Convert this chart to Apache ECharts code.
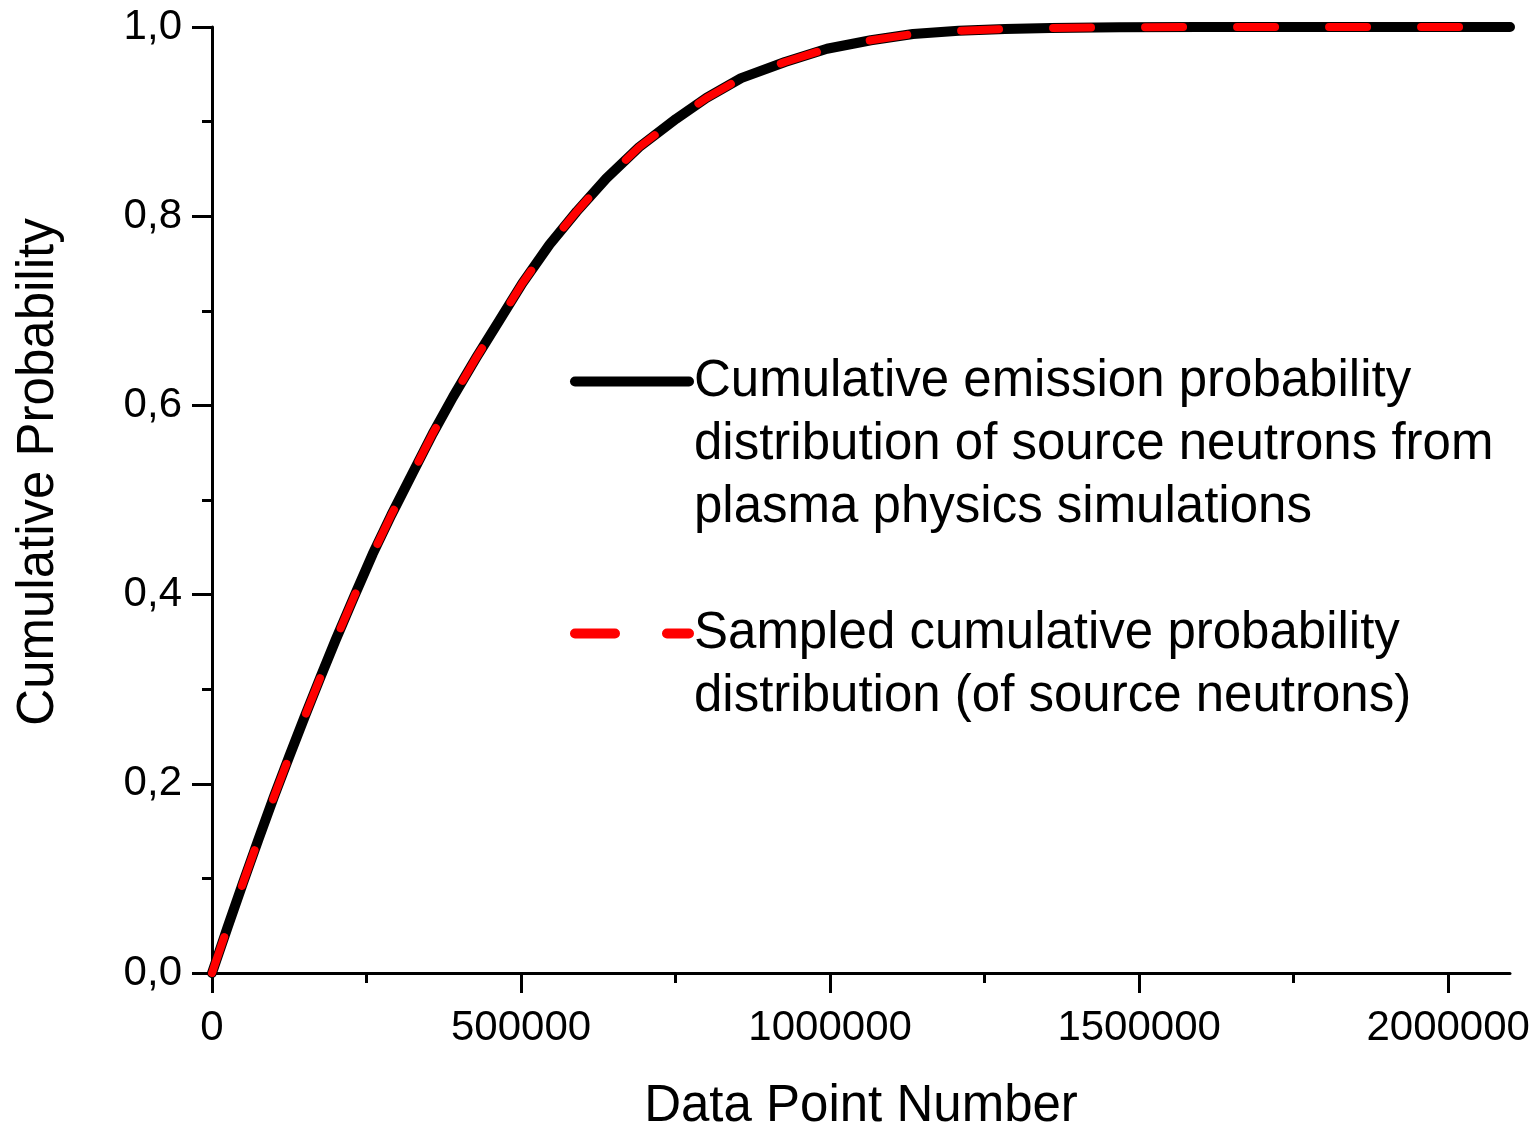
<!DOCTYPE html>
<html>
<head>
<meta charset="utf-8">
<script src="https://cdn.jsdelivr.net/npm/echarts@6/dist/echarts.min.js"></script>
<style>
  html, body { margin: 0; padding: 0; background: #fff; }
  #chart { width: 1536px; height: 1125px; }
</style>
</head>
<body>
<div id="chart"></div>
<script>
// ---- data ----
const dataPointNumber = [0, 25000, 50000, 75000, 100000, 125000, 150000, 175000, 200000, 230000,
  260000, 290000, 325000, 357000, 390000, 428000, 465000, 502000, 546000, 590000,
  638000, 691000, 751000, 800000, 856000, 927000, 995000, 1066000, 1134000, 1208000,
  1283000, 1357000, 1468000, 1600000, 1800000, 2100000];
const cumulativeEmission = [0, 0.048, 0.095, 0.141, 0.186, 0.229, 0.271, 0.312, 0.352, 0.398,
  0.443, 0.484, 0.529, 0.570, 0.609, 0.651, 0.690, 0.729, 0.770, 0.805,
  0.840, 0.873, 0.903, 0.925, 0.946, 0.963, 0.977, 0.986, 0.9926, 0.996,
  0.998, 0.999, 0.9997, 1.0, 1.0, 1.0];
const sampledCumulative = [0, 0.048, 0.095, 0.141, 0.186, 0.229, 0.271, 0.312, 0.352, 0.398,
  0.443, 0.484, 0.529, 0.570, 0.609, 0.651, 0.690, 0.729, 0.770, 0.805,
  0.840, 0.873, 0.903, 0.925, 0.946, 0.963, 0.977, 0.986, 0.9926, 0.996,
  0.998, 0.999, 0.9997, 1.0, 1.0, 1.0];
const seriesNames = [
  'Cumulative emission probability\ndistribution of source neutrons from\nplasma physics simulations',
  'Sampled cumulative probability\ndistribution (of source neutrons)'
];
const xTickValues = [0, 500000, 1000000, 1500000, 2000000];
const xMinorTickValues = [250000, 750000, 1250000, 1750000];
const yTickValues = [0, 0.2, 0.4, 0.6, 0.8, 1.0];
const xAxisTitle = 'Data Point Number';
const yAxisTitle = 'Cumulative Probability';

// ---- chart ----
const FONT = 'Arial, "Liberation Sans", Helvetica, sans-serif';
const chart = echarts.init(document.getElementById('chart'), null, { renderer: 'canvas' });

const pairs = (xs, ys) => xs.map((x, i) => [x, ys[i]]);
// pad with blank lines above so that the first text line sits level with the legend line
const legendText = name => {
  const n = name.split('\n').length;
  return '\n'.repeat(n - 1) + name;
};

chart.setOption({
  animation: false,
  backgroundColor: '#fff',
  textStyle: { fontFamily: FONT, color: '#000' },
  grid: { left: 212, right: 26, top: 27, bottom: 152, containLabel: false, outerBoundsMode: 'none' },
  xAxis: [{
    type: 'value', min: 0, max: 2100000, interval: 500000,
    name: xAxisTitle, nameLocation: 'middle', nameGap: 108,
    nameTextStyle: { fontSize: 51, color: '#000', fontFamily: FONT },
    axisLine: { show: true, onZero: false, lineStyle: { color: '#000', width: 3 } },
    axisTick: { show: true, length: 20, lineStyle: { color: '#000', width: 3 }, customValues: xTickValues },
    axisLabel: { fontSize: 42, color: '#000', margin: 34, fontFamily: FONT, customValues: xTickValues,
      formatter: v => String(v) },
    splitLine: { show: false }
  }, {
    type: 'value', min: 0, max: 2100000, position: 'bottom', gridIndex: 0,
    axisLine: { show: false },
    axisTick: { show: true, length: 10, lineStyle: { color: '#000', width: 3 }, customValues: xMinorTickValues },
    axisLabel: { show: false },
    splitLine: { show: false }
  }],
  yAxis: {
    type: 'value', min: 0, max: 1, interval: 0.2,
    name: yAxisTitle, nameLocation: 'middle', nameGap: 148,
    nameTextStyle: { fontSize: 51, color: '#000', fontFamily: FONT, padding: [0, 0, 0, 56] },
    axisLine: { show: true, onZero: false, lineStyle: { color: '#000', width: 3 } },
    axisTick: { show: true, length: 20, lineStyle: { color: '#000', width: 3 }, customValues: yTickValues },
    minorTick: { show: true, splitNumber: 2, length: 10, lineStyle: { color: '#000', width: 3 } },
    axisLabel: { fontSize: 42, color: '#000', margin: 30, fontFamily: FONT, customValues: yTickValues,
      formatter: v => v.toFixed(1).replace('.', ',') },
    splitLine: { show: false }
  },
  legend: {
    orient: 'vertical', left: 570, top: 224, padding: 0, itemGap: 0,
    itemWidth: 114, itemHeight: 14, selectedMode: false,
    textStyle: { fontSize: 51, lineHeight: 63, color: '#000', fontFamily: FONT },
    formatter: legendText,
    itemStyle: { opacity: 0 },
    data: [
      { name: seriesNames[0], itemStyle: { opacity: 0 },
        lineStyle: { color: '#000', width: 10, cap: 'round', type: 'solid' } },
      { name: seriesNames[1], itemStyle: { opacity: 0 },
        lineStyle: { color: '#ff0000', width: 10, cap: 'round', type: [40, 52] } }
    ]
  },
  series: [{
    name: seriesNames[0], type: 'line', symbol: 'none', smooth: false,
    data: pairs(dataPointNumber, cumulativeEmission),
    lineStyle: { color: '#000', width: 10, cap: 'round', join: 'round' },
    itemStyle: { color: '#000' }, z: 2
  }, {
    name: seriesNames[1], type: 'line', symbol: 'none', smooth: false,
    data: pairs(dataPointNumber, sampledCumulative),
    lineStyle: { color: '#ff0000', width: 8, type: [38, 54], cap: 'round', join: 'round' },
    itemStyle: { color: '#ff0000' }, z: 3
  }]
});
</script>
</body>
</html>
